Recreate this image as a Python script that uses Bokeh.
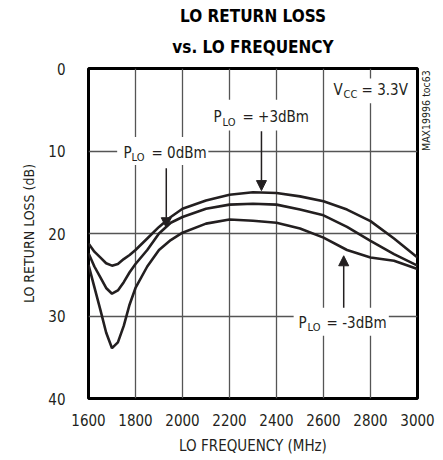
from bokeh.plotting import figure
from bokeh.models import Range1d, Label, Arrow, NormalHead, FixedTicker, Title, LinearAxis
from bokeh.embed import file_html
from bokeh.resources import INLINE
import math

# ---- data ----
freq_mhz = [1600, 1625, 1650, 1675, 1700, 1725, 1750, 1775, 1800, 1850, 1900, 1950,
            2000, 2100, 2200, 2300, 2400, 2500, 2600, 2700, 2800, 2900, 3000]
rl_p3dbm = [21.2, 22.2, 22.9, 23.6, 23.9, 23.7, 23.1, 22.6, 22.0, 20.6, 19.2, 18.0,
            17.0, 16.0, 15.3, 15.0, 15.1, 15.5, 16.1, 17.1, 18.5, 20.6, 22.9]
rl_0dbm = [22.4, 24.0, 25.3, 26.6, 27.3, 26.9, 25.9, 24.7, 23.7, 22.0, 20.0, 18.7,
           18.0, 17.0, 16.5, 16.4, 16.5, 17.1, 17.8, 19.2, 20.9, 22.5, 23.9]
rl_m3dbm = [23.8, 26.5, 29.2, 32.0, 33.9, 33.2, 31.2, 28.6, 26.6, 24.0, 22.0, 20.8,
            19.9, 18.8, 18.3, 18.45, 18.7, 19.4, 20.5, 22.0, 22.9, 23.3, 24.3]
x_ticks = [1600, 1800, 2000, 2200, 2400, 2600, 2800, 3000]
y_ticks = [0, 10, 20, 30, 40]

FONT = "DejaVu Sans Condensed"
INK = "#231f20"

p = figure(width=443, height=460, output_backend="svg", toolbar_location=None,
           x_range=Range1d(1600, 3000), y_range=Range1d(40, 0),
           min_border_left=88, min_border_right=26, min_border_top=68, min_border_bottom=62)
p.title.visible = False
p.background_fill_color = "white"
p.outline_line_color = "black"
p.outline_line_width = 3

for ax in (p.xaxis, p.yaxis):
    ax.axis_line_color = None
    ax.major_tick_line_color = None
    ax.minor_tick_line_color = None
    ax.major_label_text_font = FONT
    ax.major_label_text_font_size = "15px"
    ax.major_label_text_color = INK
    ax.axis_label_text_font = FONT
    ax.axis_label_text_font_style = "normal"
    ax.axis_label_text_color = INK

p.xaxis.ticker = FixedTicker(ticks=x_ticks)
p.yaxis.ticker = FixedTicker(ticks=y_ticks)
p.xaxis.major_label_standoff = 9
p.yaxis.major_label_standoff = 17
p.xaxis.axis_label = "LO FREQUENCY (MHz)"
p.yaxis.axis_label = "LO RETURN LOSS (dB)"
p.xaxis.axis_label_text_font_size = "15px"
p.yaxis.axis_label_text_font_size = "14px"
p.xaxis.axis_label_standoff = 8
p.yaxis.axis_label_standoff = 8

p.xgrid.ticker = FixedTicker(ticks=x_ticks)
p.ygrid.ticker = FixedTicker(ticks=y_ticks)
for g in (p.xgrid, p.ygrid):
    g.grid_line_color = "#555555"
    g.grid_line_width = 1.3

# side note as a right-hand axis label
side = LinearAxis(ticker=FixedTicker(ticks=[10]), major_label_overrides={10: "MAX19996 toc63"},
                  axis_line_color=None, major_tick_line_color=None, minor_tick_line_color=None,
                  major_label_orientation=math.pi / 2, major_label_text_font=FONT,
                  major_label_text_font_size="10.5px", major_label_standoff=2,
                  major_label_text_color=INK)
p.add_layout(side, "right")

# title (two lines)
p.add_layout(Title(text="vs. LO FREQUENCY", align="center", text_font=FONT,
                   text_font_style="bold", text_font_size="17px", standoff=23,
                   text_color="black"), "above")
p.add_layout(Title(text="LO RETURN LOSS", align="center", text_font=FONT,
                   text_font_style="bold", text_font_size="17px", standoff=-4,
                   text_color="black"), "above")

# white boxes behind annotation texts (interrupt grid lines)
p.quad(left=[2106, 1722, 2473, 2622], right=[2554, 2110, 2878, 2975],
       top=[3.8, 8.3, 29.0, 1.2], bottom=[7.5, 11.7, 32.4, 4.2],
       fill_color="white", line_color=None)

for ys in (rl_m3dbm, rl_0dbm, rl_p3dbm):
    p.line(freq_mhz, ys, line_color=INK, line_width=2.6)

def sub_label(x, y, main, sub, rest, dx_sub, dx_rest):
    common = dict(x=x, y=y, text_font=FONT, text_color=INK, text_baseline="middle",
                  text_align="left")
    p.add_layout(Label(text=main, text_font_size="15px", **common))
    p.add_layout(Label(text=sub, text_font_size="11px", x_offset=dx_sub, y_offset=-5, **common))
    p.add_layout(Label(text=rest, text_font_size="15px", x_offset=dx_rest, **common))

sub_label(2132, 5.9, "P", "LO", "= +3dBm", 9, 29)
sub_label(1749, 10.2, "P", "LO", "= 0dBm", 8, 28)
sub_label(2494, 30.8, "P", "LO", "= -3dBm", 9, 28)
sub_label(2643, 2.6, "V", "CC", "= 3.3V", 10, 28)

for xa, y0, y1 in ((2336, 7.6, 14.8), (1931, 12.1, 19.3), (2686, 29.0, 22.7)):
    p.add_layout(Arrow(end=NormalHead(size=10, fill_color=INK, line_color=INK),
                       x_start=xa, y_start=y0, x_end=xa, y_end=y1,
                       line_color=INK, line_width=1.5))

open("out.html", "w").write(file_html(p, INLINE))
